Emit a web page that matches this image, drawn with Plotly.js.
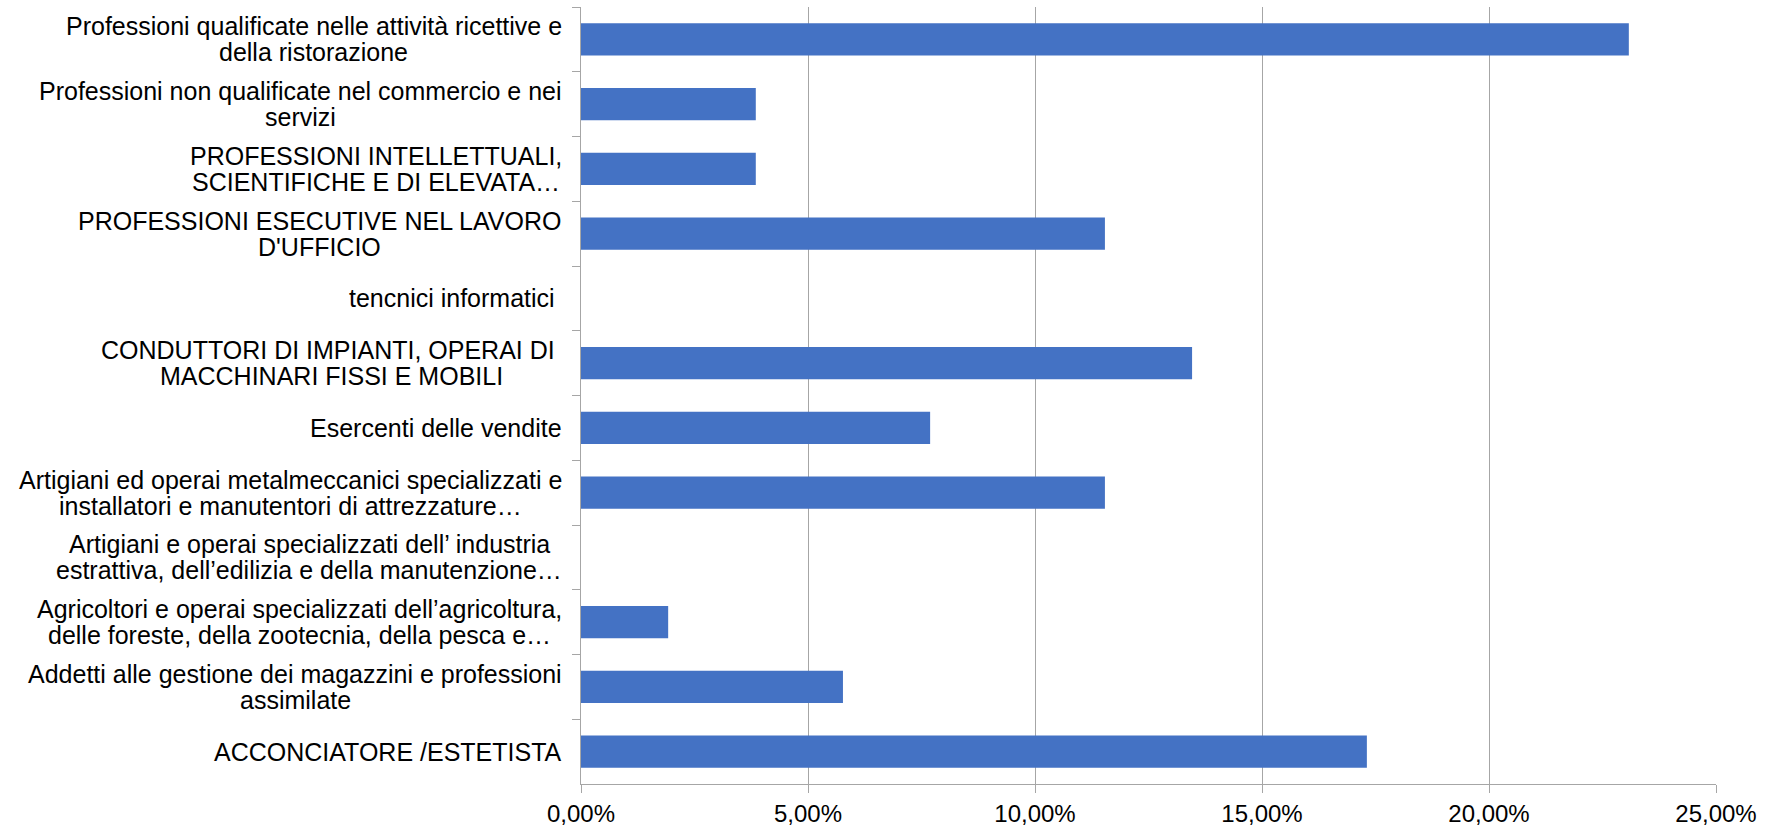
<!DOCTYPE html>
<html>
<head>
<meta charset="utf-8">
<script src="https://cdn.plot.ly/plotly-3.0.1.min.js"></script>
<style>
html,body{margin:0;padding:0;background:#fff;}
#chart{width:1771px;height:830px;}
</style>
</head>
<body>
<div id="chart"></div>
<script>
// Categories, top to bottom
const categories = [
  "Professioni qualificate nelle attività ricettive e della ristorazione",
  "Professioni non qualificate nel commercio e nei servizi",
  "PROFESSIONI INTELLETTUALI, SCIENTIFICHE E DI ELEVATA…",
  "PROFESSIONI ESECUTIVE NEL LAVORO D'UFFICIO",
  "tencnici informatici",
  "CONDUTTORI DI IMPIANTI, OPERAI DI MACCHINARI FISSI E MOBILI",
  "Esercenti delle vendite",
  "Artigiani ed operai metalmeccanici specializzati e installatori e manutentori di attrezzature…",
  "Artigiani e operai specializzati dell’ industria estrattiva, dell’edilizia e della manutenzione…",
  "Agricoltori e operai specializzati dell’agricoltura, delle foreste, della zootecnia, della pesca e…",
  "Addetti alle gestione dei magazzini e professioni assimilate",
  "ACCONCIATORE /ESTETISTA"
];
// Wrapped tick labels as shown in the chart
const tickLabels = [
  "Professioni qualificate nelle attività ricettive e<br>della ristorazione",
  "Professioni non qualificate nel commercio e nei<br>servizi",
  "PROFESSIONI INTELLETTUALI,<br>SCIENTIFICHE E DI ELEVATA…",
  "PROFESSIONI ESECUTIVE NEL LAVORO<br>D'UFFICIO",
  "tencnici informatici\u00a0",
  "CONDUTTORI DI IMPIANTI, OPERAI DI\u00a0<br>MACCHINARI FISSI E MOBILI",
  "Esercenti delle vendite",
  "Artigiani ed operai metalmeccanici specializzati e<br>installatori e manutentori di attrezzature…",
  "Artigiani e operai specializzati dell’ industria<br>estrattiva, dell’edilizia e della manutenzione…",
  "Agricoltori e operai specializzati dell’agricoltura,<br>delle foreste, della zootecnia, della pesca e…",
  "Addetti alle gestione dei magazzini e professioni<br>assimilate",
  "ACCONCIATORE /ESTETISTA"
];
const values = [0.2308, 0.0385, 0.0385, 0.1154, 0, 0.1346, 0.0769, 0.1154, 0, 0.0192, 0.0577, 0.1731];
const xTicks = [0, 0.05, 0.10, 0.15, 0.20, 0.25];

const FONT = "Liberation Sans, Arial, sans-serif";
const FSIZE = 25;
const LINE_H = 26;
const GRID = "#A6A6A6";

const trace = {
  type: "bar",
  orientation: "h",
  y: categories,
  x: values,
  marker: {color: "#4472C4"},
  hoverinfo: "none"
};

// category labels: each line centred within its block, block right-aligned to the axis
const ctx = document.createElement("canvas").getContext("2d");
ctx.font = FSIZE + "px 'Liberation Sans'";
const annotations = [];
categories.forEach((c, i) => {
  const lines = tickLabels[i].split("<br>");
  const w = Math.max(...lines.map(l => ctx.measureText(l).width));
  const n = lines.length;
  lines.forEach((line, k) => {
    annotations.push({
      xref: "paper", yref: "y",
      x: 0, y: c,
      xanchor: "center", yanchor: "middle",
      xshift: -19 - w / 2,
      yshift: ((n - 1) / 2 - k) * LINE_H,
      showarrow: false,
      text: line,
      font: {family: FONT, size: FSIZE, color: "#000"}
    });
  });
});

const layout = {
  width: 1771, height: 830,
  margin: {l: 581, r: 55, t: 7, b: 46},
  paper_bgcolor: "#fff", plot_bgcolor: "#fff",
  showlegend: false,
  bargap: 0.5,
  font: {family: FONT, size: FSIZE, color: "#000"},
  xaxis: {
    range: [0, 0.25],
    tickvals: xTicks,
    tickformat: ".2%",
    showgrid: true, gridcolor: GRID, gridwidth: 1,
    zeroline: false,
    showline: true, linecolor: GRID, linewidth: 1,
    ticks: "outside", ticklen: 8, tickcolor: GRID,
    tickfont: {family: FONT, size: 24, color: "#000"},
    fixedrange: true
  },
  yaxis: {
    type: "category",
    autorange: "reversed",
    showticklabels: false,
    showgrid: false, zeroline: false,
    showline: true, linecolor: GRID, linewidth: 1,
    ticks: "outside", ticklen: 8, tickcolor: GRID,
    tickson: "boundaries",
    fixedrange: true
  },
  separators: ",.",
  annotations: annotations
};

Plotly.newPlot("chart", [trace], layout, {displayModeBar: false, staticPlot: true});
</script>
</body>
</html>
